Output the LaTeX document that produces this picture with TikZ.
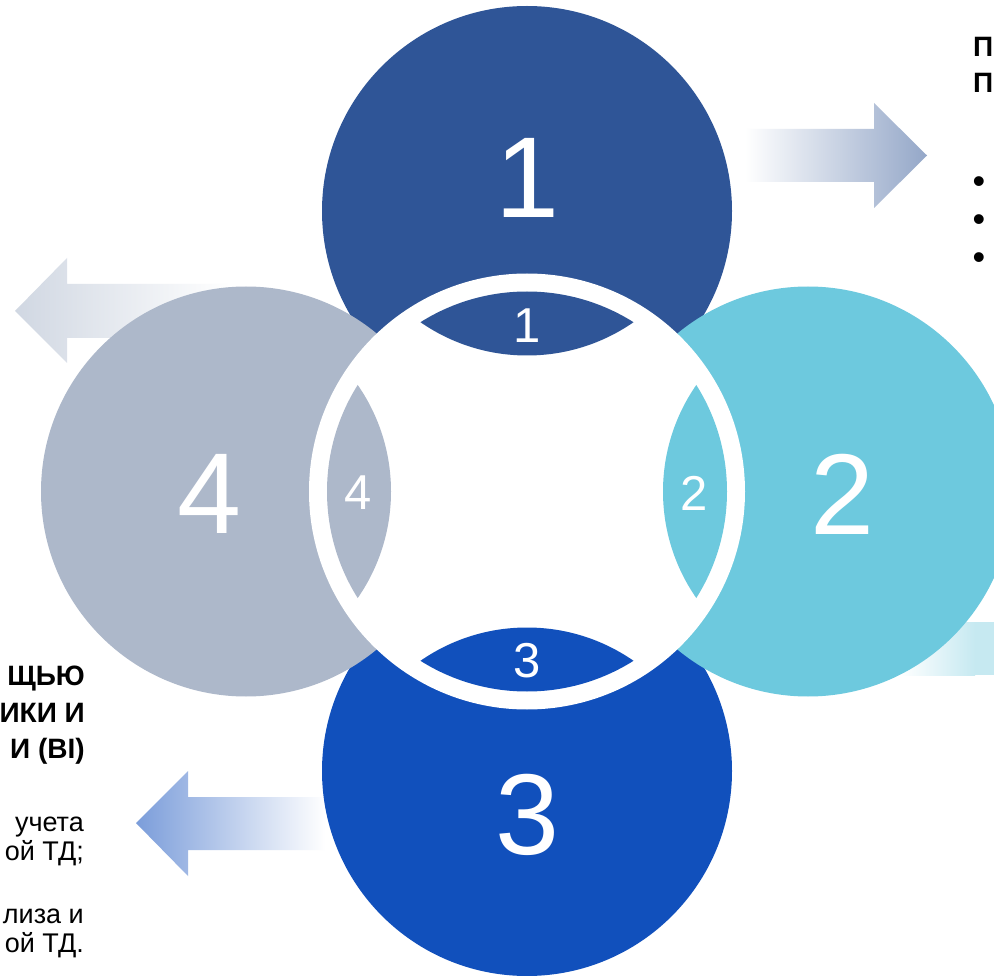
\documentclass[tikz,border=0pt]{standalone}
\usepackage{fontspec}
\setmainfont{Liberation Sans}
\usetikzlibrary{shadings}
\definecolor{cA}{HTML}{2F5597}
\definecolor{cB}{HTML}{6DC9DE}
\definecolor{cC}{HTML}{1150BC}
\definecolor{cD}{HTML}{ADB8CA}
\definecolor{arA}{HTML}{94A7C8}
\definecolor{arB}{HTML}{C6E9F1}
\definecolor{arC}{HTML}{7B9DDA}
\definecolor{arD}{HTML}{D0D7E2}
\tikzset{
  bignum/.style={text=white, inner sep=0pt, font=\fontsize{115}{115}\selectfont},
  smallnum/.style={text=white, inner sep=0pt, font=\fontsize{49}{49}\selectfont},
  boldline/.style={anchor=base east, inner sep=0pt, font=\fontsize{28}{28}\selectfont\bfseries},
  plainline/.style={anchor=base east, inner sep=0pt, font=\fontsize{27}{27}\selectfont},
  headline/.style={anchor=base west, inner sep=0pt, font=\fontsize{28}{28}\selectfont\bfseries},
  bulletdot/.style={inner sep=0pt, font=\fontsize{36}{36}\selectfont}
}
\begin{document}
\begin{tikzpicture}[x=1pt,y=-1pt]
\clip (0,0) rectangle (994,976);
\fill[white] (0,0) rectangle (994,976);
% arrows (behind circles)
\shade[left color=white, right color=arA]
  (745,129) -- (874,129) -- (874,103) -- (927,155.5) -- (874,208) -- (874,182) -- (745,182) -- cycle;
\shade[left color=arD, right color=white]
  (15,311) -- (67,258) -- (67,284) -- (230,284) -- (230,338) -- (67,338) -- (67,363) -- cycle;
\shade[left color=arC, right color=white]
  (136,823) -- (188,771) -- (188,797) -- (325,797) -- (325,850) -- (188,850) -- (188,876) -- cycle;
\shade[left color=white, right color=arB]
  (900,622) -- (975,622) -- (975,675) -- (900,675) -- cycle;
\fill[arB] (975,622) rectangle (1000,675);
% big circles
\fill[cA] (527,211) circle[radius=205pt];
\fill[cC] (527,771) circle[radius=205pt];
\fill[cB] (808,491.5) circle[radius=205pt];
\fill[cD] (246,491.5) circle[radius=205pt];
% white ring
\fill[white] (527,491.5) circle[radius=218pt];
% lenses
\begin{scope}
  \clip (527,491.5) circle[radius=200pt];
  \fill[cA] (527,168.5) circle[radius=187pt];
  \fill[cB] (850,491.5) circle[radius=187pt];
  \fill[cC] (527,814.5) circle[radius=187pt];
  \fill[cD] (204,491.5) circle[radius=187pt];
\end{scope}
% big numbers
\node[bignum] (n1) at (527,178) {1};
\node[bignum] (n2) at (842,494.5) {2};
\node[bignum] (n3) at (527,815) {3};
\node[bignum] (n4) at (209,494) {4};
% small numbers
\node[smallnum] (s1) at (527,326) {1};
\node[smallnum] (s2) at (694,493) {2};
\node[smallnum] (s3) at (527,660.5) {3};
\node[smallnum] (s4) at (358,492.5) {4};
% right text
\node[headline] (h1) at (973,57) {П};
\node[headline] (h2) at (973,93) {П};
\node[bulletdot] (b1) at (979,185) {•};
\node[bulletdot] (b2) at (979,223) {•};
\node[bulletdot] (b3) at (979,261) {•};
% left text
\node[boldline] (l1) at (85,685) {ЩЬЮ};
\node[boldline] (l2) at (85,722) {ИКИ И};
\node[boldline] (l3) at (85,758) {И (BI)};
\node[plainline] (l4) at (84,831) {учета};
\node[plainline] (l5) at (84,860) {ой ТД;};
\node[plainline] (l6) at (84,923) {лиза и};
\node[plainline] (l7) at (84,952) {ой ТД.};
\end{tikzpicture}
\end{document}
